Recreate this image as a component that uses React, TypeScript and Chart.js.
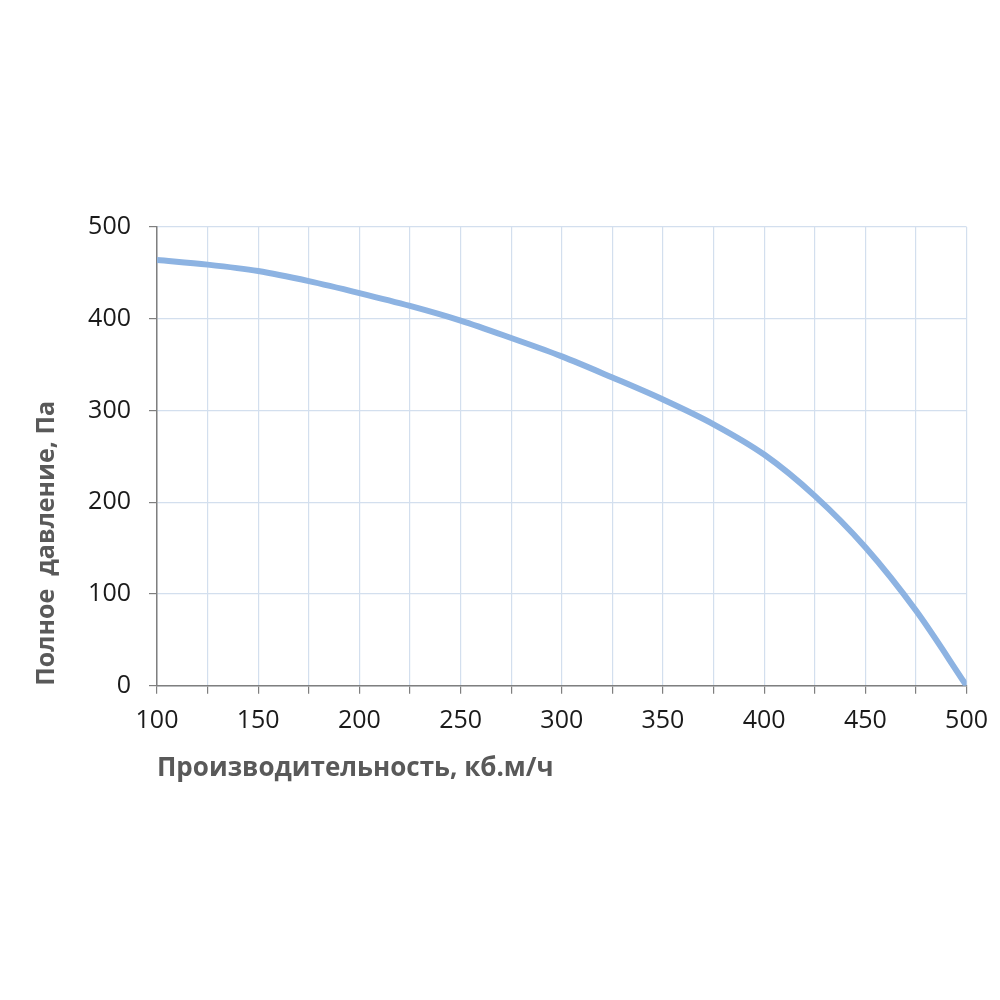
import React, { useEffect, useRef } from 'react';
import { Chart, registerables } from 'chart.js';

Chart.register(...registerables);

// air flow, m3/h
const flow = [100, 125, 150, 175, 200, 225, 250, 275, 300, 325, 350, 375, 400, 425, 450, 475, 500];
// total pressure, Pa
const pressure = [464, 459, 452, 441, 428, 414, 398, 379, 359, 336, 312, 285, 252, 207, 151, 82, 0];

const xTitle = 'Производительность, кб.м/ч';
const yTitle = 'Полное  давление, Па';

const tickFont = { family: 'Open Sans', size: 25 };

export default function App() {
  const canvasRef = useRef<HTMLCanvasElement | null>(null);
  const chartRef = useRef<Chart | null>(null);

  useEffect(() => {
    document.body.style.margin = '0';
    if (!canvasRef.current) return;
    if (chartRef.current) chartRef.current.destroy();

    chartRef.current = new Chart(canvasRef.current, {
      type: 'scatter',
      data: {
        datasets: [
          {
            data: flow.map((x, i) => ({ x, y: pressure[i] })),
            showLine: true,
            borderColor: '#8db3e2',
            borderWidth: 6,
            pointRadius: 0,
            cubicInterpolationMode: 'monotone',
            fill: false,
          },
        ],
      },
      options: {
        animation: false,
        responsive: true,
        maintainAspectRatio: false,
        layout: { padding: { left: 32, top: 227, right: 32, bottom: 216 } },
        plugins: { legend: { display: false }, tooltip: { enabled: false } },
        scales: {
          x: {
            type: 'linear',
            min: 100,
            max: 500,
            ticks: {
              stepSize: 25,
              autoSkip: false,
              maxRotation: 0,
              color: '#1a1a1a',
              font: tickFont,
              padding: 12,
              callback: (v: any) => (Number(v) % 50 === 0 ? String(v) : ''),
            },
            grid: { color: '#d3dfee', lineWidth: 1.2, tickColor: '#7f7f7f', tickLength: 8 },
            border: { color: '#7f7f7f', width: 1.5 },
            title: {
              display: true,
              text: xTitle,
              align: 'start',
              color: '#595959',
              font: { family: 'Open Sans', size: 26, weight: 'bold' },
              padding: { top: 5, bottom: 0 },
            },
          },
          y: {
            min: 0,
            max: 500,
            ticks: { stepSize: 100, color: '#1a1a1a', font: tickFont, padding: 18 },
            grid: { color: '#d3dfee', lineWidth: 1.2, tickColor: '#7f7f7f', tickLength: 8 },
            border: { color: '#7f7f7f', width: 1.5 },
            title: {
              display: true,
              text: yTitle,
              align: 'start',
              color: '#595959',
              font: { family: 'Open Sans', size: 25, weight: 'bold' },
              padding: { top: 0, bottom: 0 },
            },
            afterFit: (scale: any) => {
              scale.width = 125;
            },
          },
        },
      },
    });

    return () => {
      if (chartRef.current) {
        chartRef.current.destroy();
        chartRef.current = null;
      }
    };
  }, []);

  return (
    <div style={{ width: 1000, height: 1000, background: '#fff' }}>
      <canvas ref={canvasRef} />
    </div>
  );
}
